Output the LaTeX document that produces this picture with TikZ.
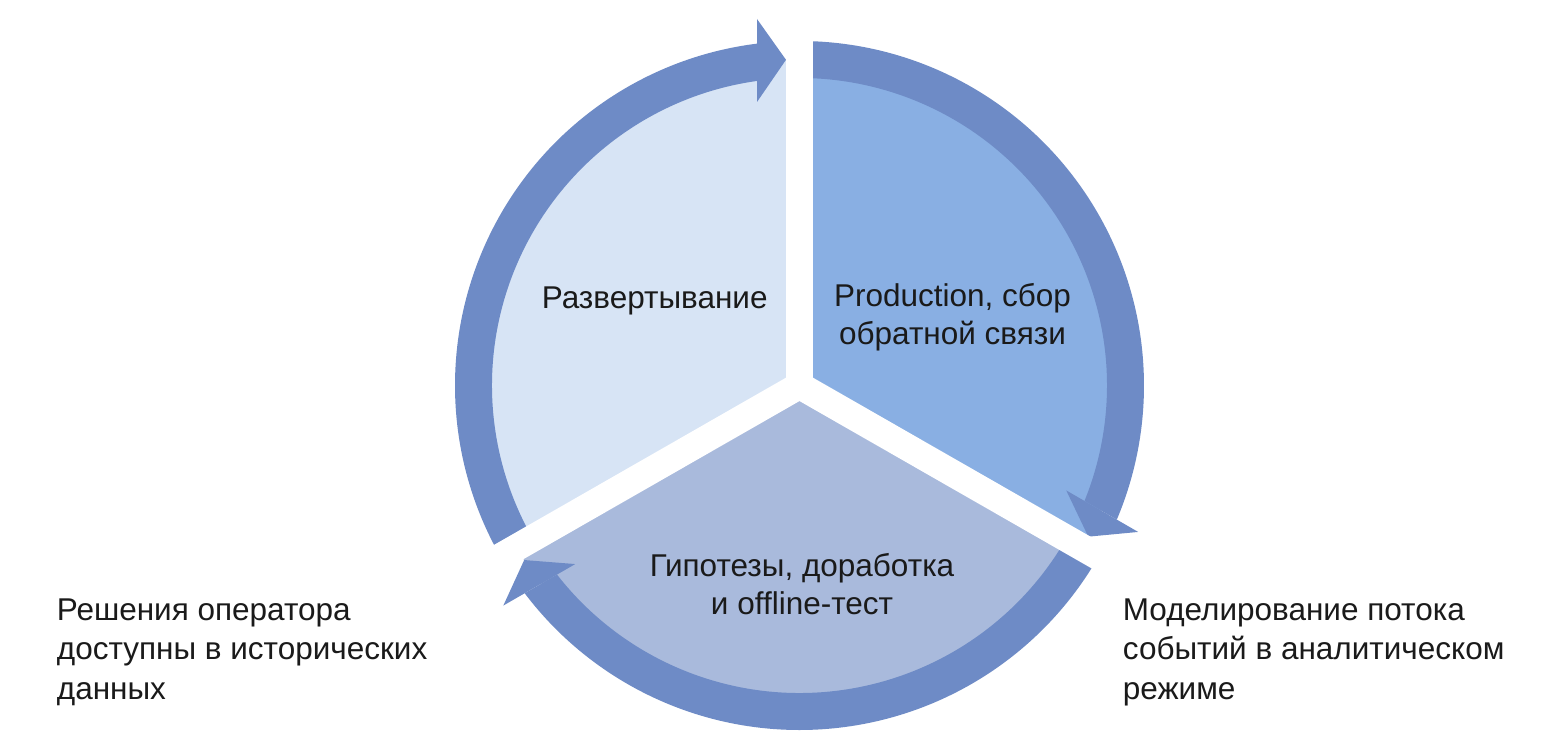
\documentclass[tikz,border=0pt]{standalone}
\usepackage{fontspec}
\setmainfont{Liberation Sans}
\definecolor{ringc}{HTML}{6E8BC6}
\definecolor{discA}{HTML}{D7E4F5}
\definecolor{discB}{HTML}{89AFE3}
\definecolor{discC}{HTML}{A9BADC}
\definecolor{txt}{HTML}{1A1A1A}
\tikzset{
  pics/cycleseg/.style={code={
    \fill[#1] (0,0) -- (90:326) arc[start angle=90,end angle=210,radius=326] -- cycle;
    \fill[ringc] (210:344.5) arc[start angle=210,end angle=97.09,radius=344.5]
      -- (-42.5,304.55) arc[start angle=97.94,end angle=210,radius=307.5] -- cycle;
    \fill[ringc] (-42.5,283.5) -- (-13.5,325.7) -- (-42.5,366.5) -- cycle;
  }},
  gapline/.style={white, line width=27},
  intext/.style={inner sep=0, text=txt, font=\fontsize{31.5}{38}\selectfont, align=center, anchor=base},
  sidetext/.style={inner sep=0, text=txt, font=\fontsize{31.5}{39.5}\selectfont, align=left, anchor=base west}
}
\begin{document}
\begin{tikzpicture}[x=1pt,y=1pt]
  \fill[white] (-799.5,-361.5) rectangle (760.5,385.5);
  \useasboundingbox (-799.5,-361.5) rectangle (760.5,385.5);
  \begin{scope}[xscale=1.008]
    \pic (segA) {cycleseg=discA};
    \pic[rotate=-120] (segB) {cycleseg=discB};
    \pic[rotate=120] (segC) {cycleseg=discC};
    \draw[gapline] (0,0) -- (90:390);
    \draw[gapline] (0,0) -- (210:390);
    \draw[gapline] (0,0) -- (330:390);
    \fill[white] (0,0) circle (14);
  \end{scope}
  \node[intext] (tA) at (-144.8,77.5) {Развертывание};
  \node[intext] (tB) at (153,41) {Production, сбор\\обратной связи};
  \node[intext] (tC) at (2.5,-228.5) {Гипотезы, доработка\\и offline-тест};
  \node[sidetext] (lL) at (-742.8,-313.5) {Решения оператора\\доступны в исторических\\данных};
  \node[sidetext] (lR) at (323.2,-313.5) {Моделирование потока\\событий в аналитическом\\режиме};
\end{tikzpicture}
\end{document}
